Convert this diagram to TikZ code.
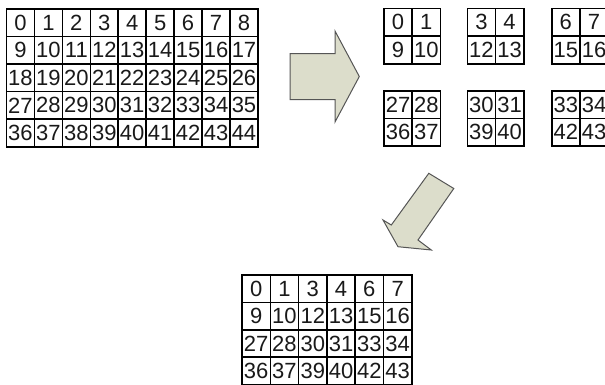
\documentclass[tikz,border=0pt]{standalone}
\usepackage{fontspec}
\setmainfont{Liberation Sans}
\definecolor{arrowfill}{HTML}{DCDDCB}
\definecolor{arrowdraw}{HTML}{555555}
\begin{document}
\begin{tikzpicture}[x=1pt,y=-1pt,
  cellbox/.style 2 args={draw=black, line width=1.6pt, rectangle,
    minimum width=#1, minimum height=#2, inner sep=0pt, outer sep=0pt,
    font=\fontsize{22}{22}\selectfont, text=black!90},
  blockarrow/.style={fill=arrowfill, draw=arrowdraw, line width=1pt, line join=miter}]
\useasboundingbox (0,0) rectangle (605,384);
% big grid 5 x 9
\foreach \r in {0,...,4}{
  \foreach \c in {0,...,8}{
    \pgfmathtruncatemacro\n{9*\r+\c}
    \node[cellbox={27.94pt}{27.54pt}] (g-\r-\c) at ({6.5+(\c+0.5)*27.94},{9+(\r+0.5)*27.54}) {\n};
  }
}
% small 2x2 blocks
\foreach \bx/\by/\st [count=\k] in {384/8.3/0, 467.3/8.3/3, 551.7/8.3/6, 384/90.7/27, 467.3/90.7/30, 551.7/90.7/33}{
  \foreach \r in {0,1}{
    \foreach \c in {0,1}{
      \pgfmathtruncatemacro\n{\st+9*\r+\c}
      \node[cellbox={28.2pt}{27.7pt}] (s\k-\r-\c) at ({\bx+(\c+0.5)*28.2},{\by+(\r+0.5)*27.7}) {\n};
    }
  }
}
% result grid 4 x 6
\foreach \rr/\ri in {0/0,1/1,2/3,3/4}{
  \foreach \cc/\ci in {0/0,1/1,2/3,3/4,4/6,5/7}{
    \pgfmathtruncatemacro\n{9*\ri+\ci}
    \node[cellbox={28.3pt}{27.4pt}] (m-\rr-\cc) at ({242+(\cc+0.5)*28.3},{275+(\rr+0.5)*27.4}) {\n};
  }
}
% right block arrow
\draw[blockarrow] (290,53.5) -- (335,53.5) -- (335,31) -- (359.3,76.5) -- (335,122) -- (335,99.5) -- (290,99.5) -- cycle;
% down-left block arrow
\draw[blockarrow] (428.8,173.3) -- (453.8,188.5) -- (418,240) -- (431.3,250) -- (398,246.7) -- (383,220) -- (391.3,225) -- cycle;
\end{tikzpicture}
\end{document}
